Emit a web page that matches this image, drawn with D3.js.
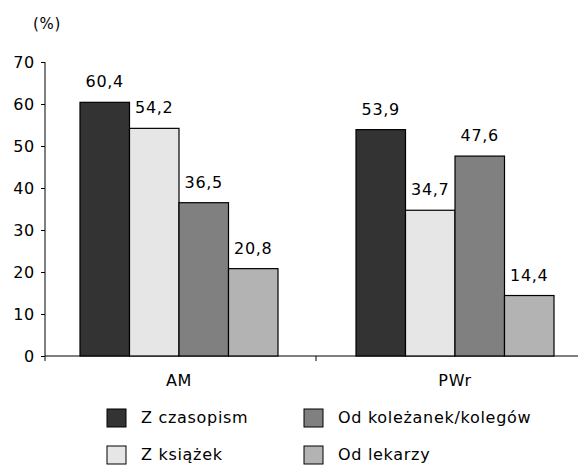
<!DOCTYPE html>
<html>
<head>
<meta charset="utf-8">
<script src="https://cdn.jsdelivr.net/npm/d3@7"></script>
<style>
  body { margin: 0; background: #fff; }
  text { font-family: "DejaVu Sans", sans-serif; font-size: 16px; letter-spacing: 0.7px; fill: #000; }
</style>
</head>
<body>
<div id="chart"></div>
<script>
// data
var groups = ["AM", "PWr"];
var series = ["Z czasopism", "Z książek", "Od koleżanek/kolegów", "Od lekarzy"];
var amValues = [60.4, 54.2, 36.5, 20.8];
var pwrValues = [53.9, 34.7, 47.6, 14.4];
var yTicks = [0, 10, 20, 30, 40, 50, 60, 70];
var colors = ["#333333", "#e6e6e6", "#808080", "#b3b3b3"];

var values = [amValues, pwrValues];

var width = 578, height = 469;

var svg = d3.select("#chart").append("svg")
    .attr("width", width)
    .attr("height", height);

// scales
var y = d3.scaleLinear().domain([0, 70]).range([356, 62]);
var x = d3.scaleBand().domain(groups).range([41, 593]);
var xs = d3.scaleBand().domain(d3.range(series.length)).range([0, 198]);

// y axis
var yAxis = d3.axisLeft(y).tickValues(yTicks).tickSize(4).tickPadding(6).tickFormat(d3.format("d"));
var gy = svg.append("g").attr("transform", "translate(45,0)").call(yAxis);
gy.select(".domain").attr("d", "M0," + y(70) + "V" + (y(0) + 5));
gy.selectAll("line").attr("stroke", "#000");
gy.selectAll("text").attr("fill", "#000");

svg.append("text")
    .attr("x", 33).attr("y", 29)
    .style("font-size", "15px")
    .text("(%)");

// x axis line + divider tick
svg.append("line")
    .attr("x1", 45).attr("x2", width)
    .attr("y1", y(0)).attr("y2", y(0))
    .attr("stroke", "#000");
svg.append("line")
    .attr("x1", 316).attr("x2", 316)
    .attr("y1", y(0)).attr("y2", y(0) + 5)
    .attr("stroke", "#000");

// bars
groups.forEach(function(g, gi) {
  var left = x(g) + x.bandwidth() / 2 - 99;
  var grp = svg.append("g").attr("transform", "translate(" + left + ",0)");
  grp.selectAll("rect")
    .data(values[gi])
    .enter()
    .append("rect")
    .attr("x", function(d, i) { return xs(i); })
    .attr("y", function(d) { return y(d); })
    .attr("width", xs.bandwidth())
    .attr("height", function(d) { return y(0) - y(d); })
    .attr("fill", function(d, i) { return colors[i]; })
    .attr("stroke", "#000")
    .attr("stroke-width", 1.2);
  grp.selectAll(".lbl")
    .data(values[gi])
    .enter()
    .append("text")
    .attr("class", "lbl")
    .attr("text-anchor", "middle")
    .attr("x", function(d, i) { return xs(i) + xs.bandwidth() / 2; })
    .attr("y", function(d) { return y(d) - 15; })
    .text(function(d) { return d.toFixed(1).replace(".", ","); });

  svg.append("text")
    .attr("text-anchor", "middle")
    .attr("x", x(g) + x.bandwidth() / 2)
    .attr("y", 386)
    .text(g);
});

// legend
var legPos = [[107, 409], [107, 446], [304, 409], [304, 446]];
series.forEach(function(s, i) {
  svg.append("rect")
    .attr("x", legPos[i][0]).attr("y", legPos[i][1])
    .attr("width", 19).attr("height", 18)
    .attr("fill", colors[i])
    .attr("stroke", "#000");
  svg.append("text")
    .attr("x", legPos[i][0] + 34)
    .attr("y", legPos[i][1] + 14)
    .text(s);
});
</script>
</body>
</html>
